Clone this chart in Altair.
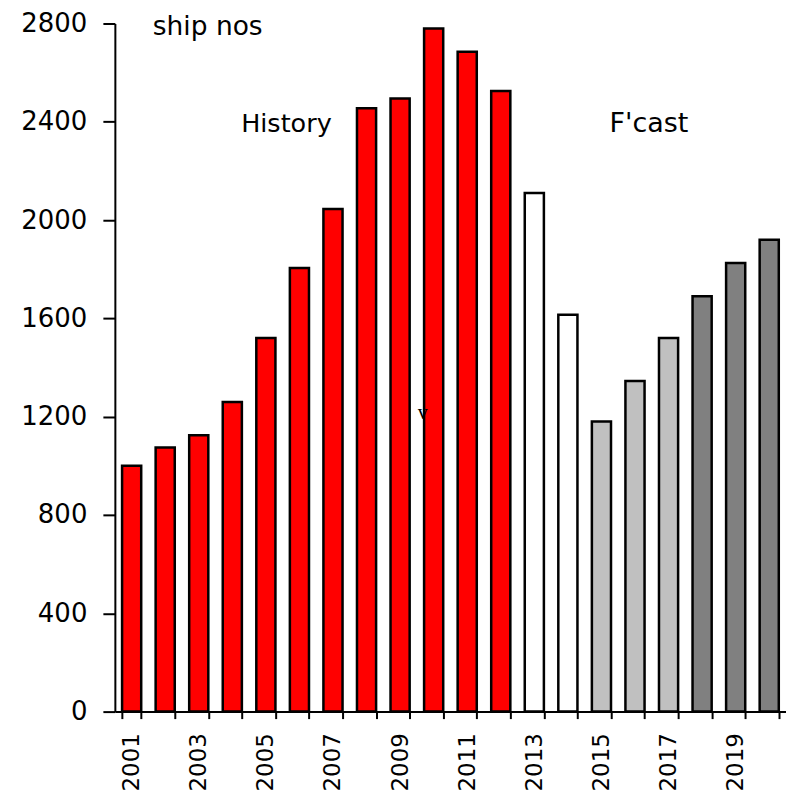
import altair as alt
import pandas as pd

years = [str(y) for y in range(2001, 2021)]
values = [1000, 1075, 1125, 1260, 1520, 1805, 2045, 2455, 2495, 2780,
          2685, 2525, 2110, 1615, 1180, 1345, 1520, 1690, 1825, 1920]
groups = ["History"] * 12 + ["Fcast A"] * 2 + ["Fcast B"] * 3 + ["Fcast C"] * 3
group_names = ["History", "Fcast A", "Fcast B", "Fcast C"]
group_colors = ["#FF0000", "#FFFFFF", "#C0C0C0", "#808080"]
odd_years = [y for y in years if int(y) % 2 == 1]

df = pd.DataFrame({"year": years, "value": values, "group": groups})

FONT = "DejaVu Sans"

x_enc = alt.X(
    "year:N",
    sort=years,
    scale=alt.Scale(domain=years, paddingInner=0.43, paddingOuter=0.215),
    axis=alt.Axis(
        title=None,
        labelAngle=-90,
        labelExpr="indexof(" + str(odd_years).replace("'", '"') + ", datum.label) >= 0 ? datum.label : ''",
        tickBand="extent",
        tickSize=7,
        tickWidth=2,
        tickColor="black",
        domainColor="black",
        domainWidth=2,
        labelFont=FONT,
        labelFontSize=23,
        labelColor="black",
        labelPadding=14,
        grid=False,
    ),
)

y_scale = alt.Scale(domain=[0, 2800], nice=False)

bars = alt.Chart(df).mark_bar(stroke="black", strokeWidth=2.5).encode(
    x=x_enc,
    y=alt.Y(
        "value:Q",
        scale=y_scale,
        axis=alt.Axis(
            title=None,
            values=list(range(0, 2801, 400)),
            format="d",
            tickSize=12,
            tickWidth=2,
            tickColor="black",
            domainColor="black",
            domainWidth=2,
            labelFont=FONT,
            labelFontSize=26,
            labelColor="black",
            labelPadding=16,
            grid=False,
        ),
    ),
    color=alt.Color("group:N", scale=alt.Scale(domain=group_names, range=group_colors), legend=None),
)

ann_text = ["ship nos", "History", "F'cast", "v"]
ann_year = ["2003", "2006", "2016", "2010"]
ann_value = [2785, 2391, 2391, 1215]
ann_dx = [9, -13, 14, -11]
ann_font = [FONT, FONT, FONT, "Liberation Serif"]
ann_size = [26.5, 25.5, 27, 20]

layers = [bars]
for t, yr, v, dx, f, s in zip(ann_text, ann_year, ann_value, ann_dx, ann_font, ann_size):
    d = pd.DataFrame({"year": [yr], "value": [v], "label": [t]})
    layers.append(
        alt.Chart(d).mark_text(dx=dx, font=f, fontSize=s, color="black", align="center", baseline="middle").encode(
            x=alt.X("year:N", sort=years),
            y=alt.Y("value:Q"),
            text="label:N",
        )
    )

chart = (
    alt.layer(*layers)
    .properties(
        width=672,
        height=689,
        autosize=alt.AutoSizeParams(type="none"),
        padding={"left": 107, "top": 15, "right": 0, "bottom": 90},
    )
    .configure(background="white")
    .configure_view(stroke=None)
    .configure_axis(grid=False)
)

chart.save("out.html", embed_options={"renderer": "svg", "actions": False})
